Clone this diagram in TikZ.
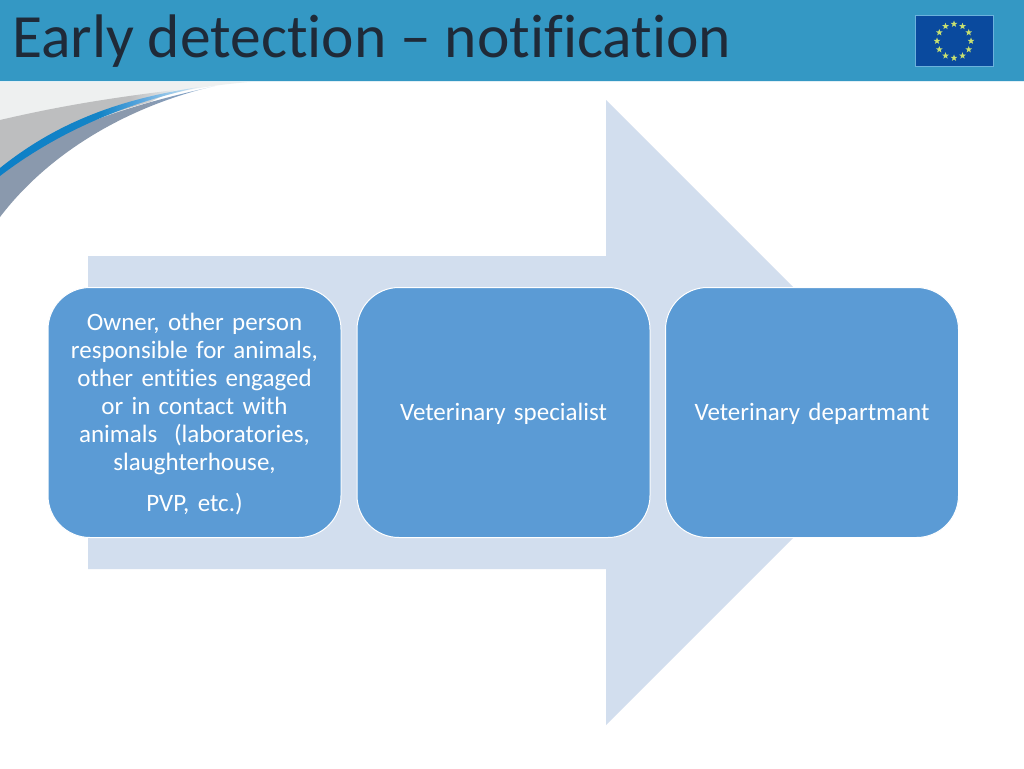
\documentclass[tikz,border=0pt]{standalone}
\usepackage{fontspec}
\setmainfont[Ligatures=NoCommon]{Carlito}
\usetikzlibrary{shapes.geometric,calc}
\definecolor{barblue}{HTML}{3498C4}
\definecolor{titleink}{HTML}{1F2A38}
\definecolor{arrowfill}{HTML}{D2DEEE}
\definecolor{boxfill}{HTML}{5B9BD5}
\definecolor{flagblue}{HTML}{0A4A9E}
\definecolor{flagedge}{HTML}{6CB2DC}
\definecolor{staryellow}{HTML}{C8E070}
\definecolor{swooshlight}{HTML}{EEF0F0}
\pgfdeclarehorizontalshading{slatefade}{100bp}{rgb(0bp)=(0.54,0.60,0.68);rgb(25bp)=(0.54,0.60,0.68);rgb(58bp)=(0.54,0.60,0.68);rgb(68bp)=(0.50,0.62,0.76);rgb(75bp)=(0.80,0.88,0.94);rgb(100bp)=(0.80,0.88,0.94)}
\pgfdeclarehorizontalshading{bluefade}{100bp}{rgb(0bp)=(0.05,0.50,0.78);rgb(25bp)=(0.05,0.50,0.78);rgb(50bp)=(0.08,0.52,0.78);rgb(60bp)=(0.35,0.65,0.87);rgb(75bp)=(0.85,0.92,0.96);rgb(100bp)=(0.85,0.92,0.96)}
\pgfdeclarehorizontalshading{greyfade}{100bp}{rgb(0bp)=(0.74,0.745,0.75);rgb(25bp)=(0.74,0.745,0.75);rgb(62bp)=(0.74,0.745,0.75);rgb(75bp)=(0.90,0.92,0.93);rgb(100bp)=(0.90,0.92,0.93)}
\tikzset{
  flowbox/.style={draw=white,line width=1pt,fill=boxfill,rounded corners=42pt,minimum width=293pt,minimum height=250pt,inner sep=0pt},
  boxtext/.style={text=white,font=\fontsize{25pt}{28pt}\selectfont,align=center,inner sep=0pt,text width=285pt},
  flagstar/.style={star,star points=5,star point ratio=2.4,fill=staryellow,inner sep=0pt,minimum size=7pt}
}
\begin{document}
\begin{tikzpicture}[x=1pt,y=-1pt]
\useasboundingbox (0,0) rectangle (1024,768);
\fill[white] (0,0) rectangle (1024,768);
% swoosh
\fill[swooshlight] (0,82) -- (250,82) .. controls (150,90) and (70,115) .. (0,217) -- cycle;
\shade[shading=greyfade] (0,120) .. controls (60,106) and (110,98) .. (175,90) -- (150,102) .. controls (100,115) and (50,135) .. (0,172) -- cycle;
\shade[shading=slatefade] (0,172) .. controls (50,135) and (100,112) .. (215,86) .. controls (140,103) and (55,145) .. (0,217) -- cycle;
\shade[shading=bluefade] (0,168) .. controls (50,128) and (110,100) .. (200,87) .. controls (130,102) and (60,130) .. (0,176) -- cycle;
% header
\fill[barblue] (0,0) rectangle (1024,81);
\fill[white!85!barblue] (0,81) rectangle (1024,82);
\node[anchor=base west,inner sep=0pt,text=titleink,font=\fontsize{61.5pt}{62pt}\selectfont] (title) at (12,57) {Early detection -- notification};
% flag
\node[draw=flagedge,line width=1pt,fill=flagblue,minimum width=78pt,minimum height=51pt,inner sep=0pt] (flag) at (954,41) {};
\foreach \a in {0,30,...,330} \node[flagstar] (s\a) at ($(954,41)+(\a:17pt)$) {};
% arrow
\fill[arrowfill] (88,256) -- (606,256) -- (606,100) -- (918.5,412.5) -- (606,725) -- (606,569) -- (88,569) -- cycle;
% boxes
\node[flowbox] (b1) at (194.5,412.5) {};
\node[flowbox] (b2) at (503.5,412.5) {};
\node[flowbox] (b3) at (812,412.5) {};
\node[boxtext,anchor=north] (t1) at (194.5,313) {Owner, other person\\responsible for animals,\\other entities engaged\\or in contact with\\animals\ \ (laboratories,\\slaughterhouse,};
\node[boxtext,anchor=north] (t1b) at (194.5,493) {PVP, etc.)};
\node[boxtext] (t2) at (503.5,413.5) {Veterinary specialist};
\node[boxtext] (t3) at (812,413.5) {Veterinary departmant};
\end{tikzpicture}
\end{document}
